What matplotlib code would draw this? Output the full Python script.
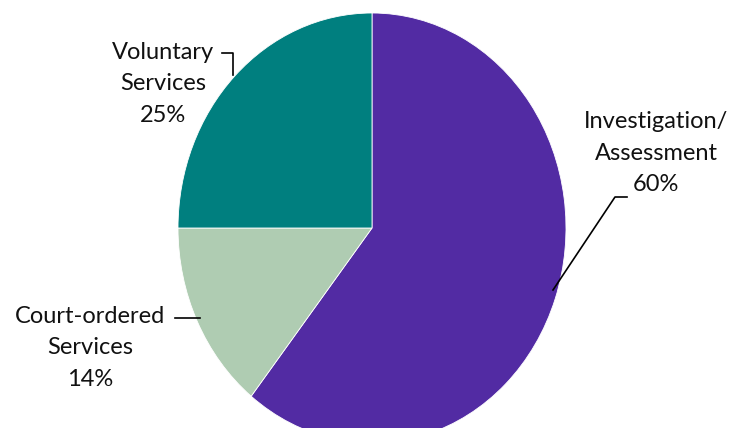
import matplotlib
matplotlib.use("Agg")
import matplotlib.pyplot as plt
from matplotlib.lines import Line2D

categories = ["Investigation/\nAssessment", "Court-ordered\nServices", "Voluntary\nServices"]
values = [60.7, 14.3, 25.0]
pct_labels = ["60%", "14%", "25%"]
colors = ["#522BA3", "#AFCCB2", "#007F7F"]

W, H = 748, 428
fig = plt.figure(figsize=(W / 100, H / 100), dpi=100)

# axes placed so the (stretched) pie spans x 178..566, y 13..443 (px from top)
cx, cy, rx, ry = 372, 228, 194, 215
ax = fig.add_axes([(cx - rx) / W, (H - (cy + ry)) / H, 2 * rx / W, 2 * ry / H])
ax.pie(values, colors=colors, startangle=90, counterclock=False,
       wedgeprops=dict(edgecolor="white", linewidth=0.6))
ax.set_aspect("auto")
ax.set_xlim(-1, 1)
ax.set_ylim(-1, 1)
ax.axis("off")

font = dict(family=["Lato", "DejaVu Sans"], fontsize=17, color="#111111")

def px(x, y):
    return x / W, 1 - y / H

label_pos = [(656, 153), (90, 348), (163, 84)]
for cat, pct, (x, y) in zip(categories, pct_labels, label_pos):
    fx, fy = px(x, y)
    fig.text(fx, fy, cat + "\n" + pct, ha="center", va="center",
             linespacing=1.6, **font)

leaders = [
    [(553, 290), (615, 197), (627, 197)],
    [(175, 318), (200, 318)],
    [(222, 53), (233, 53), (233, 75)],
]
for pts in leaders:
    xs = [p[0] / W for p in pts]
    ys = [1 - p[1] / H for p in pts]
    fig.add_artist(Line2D(xs, ys, color="black", linewidth=1.2,
                          transform=fig.transFigure))

fig.savefig("out.png", dpi=100)
